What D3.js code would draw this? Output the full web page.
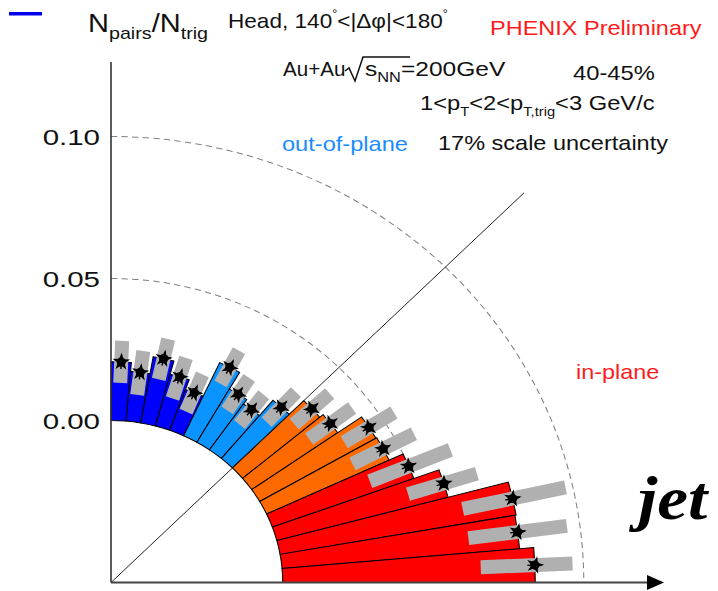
<!DOCTYPE html>
<html>
<head>
<meta charset="utf-8">
<script src="https://cdn.jsdelivr.net/npm/d3@7"></script>
<style>
  html, body { margin: 0; padding: 0; background: #fff; }
  svg { display: block; }
</style>
</head>
<body>
<svg id="chart" width="718" height="591" font-family="'Liberation Sans', Arial, sans-serif"></svg>
<script>
// Azimuthal bins (lower edge, degrees from the out-of-plane direction)
const phiLow = [0, 5, 10, 15, 20, 25, 30, 35, 40, 45, 50, 55, 60, 65, 70, 75, 80, 85];
const binWidth = 5;
// Per-trigger pair yield in each bin
const pairYield = [0.0207, 0.0176, 0.0237, 0.0189, 0.0153, 0.0284, 0.0216, 0.0197, 0.0267,
                   0.0335, 0.0349, 0.0446, 0.0449, 0.0500, 0.0589, 0.0796, 0.0792, 0.0839];
// Systematic uncertainty band (below / above the point)
const sysLow  = [0.0074, 0.0080, 0.0075, 0.0080, 0.0072, 0.0066, 0.0068, 0.0066, 0.0072,
                 0.0080, 0.0090, 0.0098, 0.0115, 0.0140, 0.0125, 0.0170, 0.0165, 0.0180];
const sysHigh = [0.0074, 0.0076, 0.0070, 0.0070, 0.0070, 0.0066, 0.0068, 0.0066, 0.0072,
                 0.0080, 0.0090, 0.0098, 0.0115, 0.0150, 0.0115, 0.0180, 0.0165, 0.0125];
// Statistical errors
const statErr = [0.0025, 0.0025, 0.0025, 0.0025, 0.0025, 0.0025, 0.0025, 0.0025, 0.0025,
                 0.0025, 0.0025, 0.0025, 0.0025, 0.0025, 0.0025, 0.0025, 0.0025, 0.0025];
// Colour of each group of bins, counted from out-of-plane to in-plane
const groupEdges  = [0, 25, 45, 65, 90];
const groupColors = ["#0000ff", "#0a94ff", "#ff6a00", "#ff0000"];
// Radial ticks
const tickValues = [0.00, 0.05, 0.10];
const tickLabels = ["0.00", "0.05", "0.10"];

const svg = d3.select("#chart");
const cx = 111, cy = 582.5;   // pole of the polar frame
const SX = 1.06;              // horizontal aspect of the frame
const r = d3.scaleLinear().domain([0, 0.10]).range([162, 446]);
const deg = d => d * Math.PI / 180;
const colorOf = d3.scaleThreshold().domain(groupEdges.slice(1, -1)).range(groupColors);

const toScreen = (ang, rad) => [cx + SX * rad * Math.sin(ang), cy - rad * Math.cos(ang)];

const bins = phiLow.map((p, i) => ({
  a0: deg(p), a1: deg(p + binWidth), ac: deg(p + binWidth / 2),
  v: pairYield[i], lo: sysLow[i], hi: sysHigh[i], st: statErr[i], color: colorOf(p)
}));

const frame = svg.append("g").attr("transform", `translate(${cx},${cy}) scale(${SX},1)`);

// dashed reference circles
tickValues.filter(t => t > 0).forEach(t => {
  const p = d3.path();
  p.arc(0, 0, r(t), -Math.PI / 2, 0, false);
  frame.append("path").attr("d", p.toString())
    .attr("fill", "none").attr("stroke", "#808080").attr("stroke-width", 1)
    .attr("stroke-dasharray", "6,4");
});

// wedges
const arc = d3.arc().innerRadius(r(0)).outerRadius(d => r(d.v))
  .startAngle(d => d.a0).endAngle(d => d.a1);
frame.selectAll("path.bin").data(bins).join("path")
  .attr("class", "bin").attr("d", arc)
  .attr("fill", d => d.color).attr("stroke", "#000").attr("stroke-width", 1)
  .attr("stroke-linejoin", "miter");

// systematic bands
const halfW = 7;
svg.selectAll("path.sys").data(bins).join("path")
  .attr("class", "sys")
  .attr("d", d => {
    const [x0, y0] = toScreen(d.ac, r(d.v - d.lo));
    const [x1, y1] = toScreen(d.ac, r(d.v + d.hi));
    const len = Math.hypot(x1 - x0, y1 - y0);
    const nx = -(y1 - y0) / len * halfW, ny = (x1 - x0) / len * halfW;
    return `M${x0 + nx},${y0 + ny}L${x1 + nx},${y1 + ny}L${x1 - nx},${y1 - ny}L${x0 - nx},${y0 - ny}Z`;
  })
  .attr("fill", "#b0b0b0");

// 45 degree guide
const [gx, gy] = toScreen(deg(45), r(0.137));
svg.append("line").attr("x1", cx).attr("y1", cy).attr("x2", gx).attr("y2", gy)
  .attr("stroke", "#222").attr("stroke-width", 1);

// data points with statistical errors
const pts = svg.append("g");
bins.forEach(d => {
  const [x0, y0] = toScreen(d.ac, r(d.v - d.st));
  const [x1, y1] = toScreen(d.ac, r(d.v + d.st));
  const [px, py] = toScreen(d.ac, r(d.v));
  pts.append("line").attr("x1", x0).attr("y1", y0).attr("x2", x1).attr("y2", y1)
    .attr("stroke", "#000").attr("stroke-width", 1.4);
  pts.append("path").attr("d", d3.symbol(d3.symbolStar, 95)())
    .attr("transform", `translate(${px},${py}) rotate(${d.ac * 180 / Math.PI})`)
    .attr("fill", "#000");
  pts.append("circle").attr("cx", px).attr("cy", py).attr("r", 4.6).attr("fill", "#000");
});

// axes
svg.append("line").attr("x1", cx).attr("y1", 62).attr("x2", cx).attr("y2", cy)
  .attr("stroke", "#333").attr("stroke-width", 1.6);
svg.append("line").attr("x1", cx).attr("y1", cy).attr("x2", 650).attr("y2", cy)
  .attr("stroke", "#444").attr("stroke-width", 2);
svg.append("path").attr("d", `M647,${cy - 7.5}L664,${cy}L647,${cy + 7.5}Z`).attr("fill", "#000");

// text helper: horizontally widened glyphs
function label(x, y, size, fill, anchor, stretch) {
  return svg.append("text")
    .attr("transform", `translate(${x},${y}) scale(${stretch || 1.12},1)`)
    .attr("font-size", size).attr("fill", fill || "#111")
    .attr("text-anchor", anchor || "start");
}

tickValues.forEach((t, i) => {
  label(100, cy - r(t) + 8, 22, "#111", "end", 1.34).text(tickLabels[i]);
});

// legend swatch
svg.append("rect").attr("x", 9).attr("y", 12).attr("width", 33).attr("height", 3.5).attr("fill", "#0000ee");

// title block
const t1 = label(88, 32, 25, "#111", "start", 1.16);
t1.append("tspan").text("N");
t1.append("tspan").attr("font-size", 17).attr("dy", 7).text("pairs");
t1.append("tspan").attr("dy", -7).text("/N");
t1.append("tspan").attr("font-size", 17).attr("dy", 7).text("trig");

const t2 = label(228, 28, 20, "#111", "start", 1.13);
t2.append("tspan").text("Head, 140");
t2.append("tspan").attr("font-size", 11).attr("dy", -11).text("°");
t2.append("tspan").attr("dy", 11).text("<|Δφ|<180");
t2.append("tspan").attr("font-size", 11).attr("dy", -11).text("°");

label(490, 35, 21, "#ff1a1a", "start", 1.12).text("PHENIX Preliminary");

label(283, 76, 21, "#111", "start", 0.98).text("Au+Au");
svg.append("path").attr("d", "M345,71L349,68L355,81L363,57L410,57")
  .attr("fill", "none").attr("stroke", "#111").attr("stroke-width", 1.5);
const t3 = label(365, 76, 21, "#111", "start", 1.17);
t3.append("tspan").text("s");
t3.append("tspan").attr("font-size", 14).attr("dy", 6).text("NN");
t3.append("tspan").attr("dy", -6).text("=200GeV");

label(573, 80, 21, "#111", "start", 1.13).text("40-45%");

const t4 = label(420, 110, 21, "#111", "start", 1.13);
t4.append("tspan").text("1<p");
t4.append("tspan").attr("font-size", 13).attr("dy", 6).text("T");
t4.append("tspan").attr("dy", -6).text("<2<p");
t4.append("tspan").attr("font-size", 13).attr("dy", 6).text("T,trig");
t4.append("tspan").attr("dy", -6).text("<3 GeV/c");

label(282, 151, 20, "#1a8cff", "start", 1.18).text("out-of-plane");
label(438, 150, 21, "#111", "start", 1.12).text("17% scale uncertainty");
label(576, 379, 20, "#ff1a1a", "start", 1.17).text("in-plane");

svg.append("text")
  .attr("transform", "translate(638,519) scale(1.12,1)")
  .attr("font-family", "'Liberation Serif', 'Times New Roman', serif")
  .attr("font-size", 62).attr("font-weight", "bold").attr("font-style", "italic")
  .attr("fill", "#000").text("jet");
</script>
</body>
</html>
